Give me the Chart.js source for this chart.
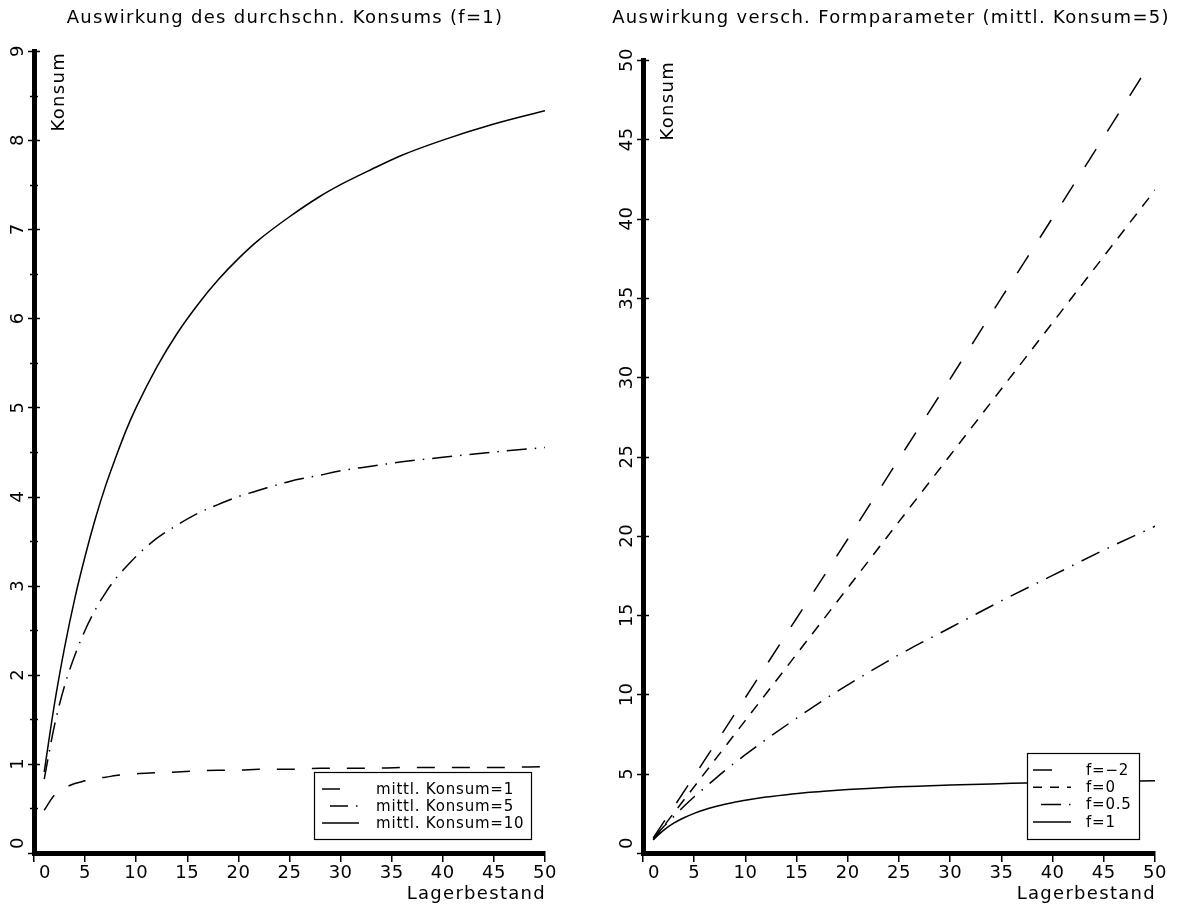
<!DOCTYPE html>
<html>
<head>
<meta charset="utf-8">
<script src="https://cdn.jsdelivr.net/npm/chart.js@4.4.0/dist/chart.umd.min.js"></script>
<style>
  body { margin: 0; background: #fff; }
  #wrap { position: relative; width: 1186px; height: 907px; }
  canvas { position: absolute; top: 0; }
</style>
</head>
<body>
<div id="wrap">
  <canvas id="links" width="593" height="907" style="left:0"></canvas>
  <canvas id="rechts" width="593" height="907" style="left:593px"></canvas>
</div>
<script>
// Daten links: Auswirkung des durchschn. Konsums (f=1)
const lagerLinks = [1, 2, 3, 4, 5, 6, 7, 8, 9, 10, 12, 14, 16, 18, 20, 22, 25, 28, 30, 33, 36, 40, 45, 50];
const konsum1  = [0.48, 0.65, 0.73, 0.78, 0.81, 0.84, 0.85, 0.87, 0.88, 0.89, 0.9, 0.91, 0.92, 0.93, 0.93, 0.94, 0.94, 0.95, 0.95, 0.95, 0.96, 0.96, 0.96, 0.97];
const konsum5  = [0.83, 1.43, 1.88, 2.22, 2.5, 2.73, 2.92, 3.08, 3.21, 3.33, 3.53, 3.68, 3.81, 3.91, 4.0, 4.07, 4.17, 4.24, 4.29, 4.34, 4.39, 4.44, 4.5, 4.55];
const konsum10 = [0.91, 1.67, 2.31, 2.86, 3.33, 3.75, 4.12, 4.44, 4.74, 5.0, 5.45, 5.83, 6.15, 6.43, 6.67, 6.88, 7.14, 7.37, 7.5, 7.67, 7.83, 8.0, 8.18, 8.33];

// Daten rechts: Auswirkung versch. Formparameter (mittl. Konsum=5)
const lagerFm2 = [1, 5, 10, 15, 20, 25, 30, 35, 40, 45, 49];
const formFm2  = [0.95, 4.85, 9.8, 14.8, 19.8, 24.85, 29.9, 35.0, 40.05, 45.15, 49.25];
const lagerF0  = [1, 10, 20, 30, 40, 50];
const formF0   = [0.84, 8.36, 16.72, 25.08, 33.44, 41.8];
const lagerF05 = [1, 2, 3, 4, 5, 6, 8, 10, 12, 15, 18, 20, 25, 30, 35, 40, 45, 50];
const formF05  = [0.9, 1.65, 2.3, 2.95, 3.55, 4.1, 5.2, 6.2, 7.15, 8.5, 9.8, 10.6, 12.5, 14.2, 15.9, 17.5, 19.1, 20.6];
const lagerF1  = [1, 2, 3, 4, 5, 6, 7, 8, 9, 10, 12, 14, 16, 18, 20, 22, 25, 28, 30, 33, 36, 40, 45, 50];
const formF1   = [0.83, 1.43, 1.88, 2.22, 2.5, 2.73, 2.92, 3.08, 3.21, 3.33, 3.53, 3.68, 3.81, 3.91, 4.0, 4.07, 4.17, 4.24, 4.29, 4.34, 4.39, 4.44, 4.5, 4.55];

// Achsenbeschriftung
const xTicks = [0, 5, 10, 15, 20, 25, 30, 35, 40, 45, 50];
const yTicksLinks = [0, 1, 2, 3, 4, 5, 6, 7, 8, 9];
const yTicksRechts = [0, 5, 10, 15, 20, 25, 30, 35, 40, 45, 50];

const FONT = '18px "DejaVu Sans"';
const FONT_LEG = '15px "DejaVu Sans"';

function punkte(xs, ys) {
  return xs.map((x, i) => ({ x, y: ys[i] }));
}

function linie(label, xs, ys, dash, legDash, legOffset) {
  return {
    label, data: punkte(xs, ys),
    borderColor: '#000', borderWidth: 1.5, borderDash: dash,
    pointRadius: 0, fill: false, cubicInterpolationMode: 'monotone',
    legDash, legOffset
  };
}

// Titel, Beschriftungen, Ticks und Legende selbst zeichnen
const beschriftung = {
  id: 'beschriftung',
  afterDraw(chart, args, o) {
    const ctx = chart.ctx;
    const { left, right, top } = chart.chartArea;
    const xs = chart.scales.x, ys = chart.scales.y;
    ctx.save();
    ctx.fillStyle = '#000';
    ctx.strokeStyle = '#000';
    ctx.font = FONT;
    ctx.letterSpacing = '1.3px';
    ctx.textBaseline = 'middle';

    ctx.textAlign = 'center';
    ctx.fillText(o.titel, o.titelX, 18);

    // y-Ticks (kreuzen die dicke Achse)
    ctx.lineWidth = 1.5;
    o.yMarken.forEach(v => {
      const py = Math.round(ys.getPixelForValue(v)) + 0.5;
      const l = o.yTicks.includes(v) ? 6 : 4;
      ctx.beginPath(); ctx.moveTo(left - l, py); ctx.lineTo(left + l, py); ctx.stroke();
    });

    // x-Beschriftung
    ctx.letterSpacing = '0.5px';
    xTicks.forEach(v => {
      let px = xs.getPixelForValue(v);
      if (v === 0) px += 11;
      ctx.fillText(String(v), px, 873);
    });
    ctx.letterSpacing = '1.3px';
    ctx.textAlign = 'right';
    ctx.fillText('Lagerbestand', right + 1, 894);

    // y-Beschriftung (gedreht)
    ctx.letterSpacing = '0.5px';
    o.yTicks.forEach(v => {
      let py = ys.getPixelForValue(v);
      if (v === 0) py -= 10;
      ctx.save();
      ctx.translate(left - 16, py);
      ctx.rotate(-Math.PI / 2);
      ctx.textAlign = 'center';
      ctx.fillText(String(v), 0, 0);
      ctx.restore();
    });
    ctx.letterSpacing = '1.3px';
    ctx.save();
    ctx.translate(left + 25, top + 1);
    ctx.rotate(-Math.PI / 2);
    ctx.textAlign = 'right';
    ctx.fillText('Konsum', 0, 0);
    ctx.restore();

    // Legende
    const L = o.legende;
    ctx.fillStyle = '#fff';
    ctx.fillRect(L.x, L.y, L.w, L.h);
    ctx.lineWidth = 1.2;
    ctx.strokeRect(L.x + 0.5, L.y + 0.5, L.w, L.h);
    ctx.fillStyle = '#000';
    ctx.textAlign = 'left';
    ctx.font = FONT_LEG;
    ctx.letterSpacing = '0.8px';
    chart.data.datasets.forEach((ds, i) => {
      const y = L.zeile0 + i * L.abstand;
      ctx.lineWidth = 1.5;
      ctx.setLineDash(ds.legDash || []);
      ctx.lineDashOffset = ds.legOffset || 0;
      ctx.beginPath(); ctx.moveTo(L.sx, y); ctx.lineTo(L.sx + L.sw, y); ctx.stroke();
      ctx.setLineDash([]);
      ctx.fillText(ds.label, L.tx, y + 1);
    });
    ctx.restore();
  }
};

function optionen(cfg) {
  return {
    responsive: false,
    animation: false,
    devicePixelRatio: 1,
    layout: { padding: { top: cfg.top, right: cfg.rechts, left: 0, bottom: 0 } },
    plugins: {
      legend: { display: false },
      tooltip: { enabled: false },
      beschriftung: cfg.text
    },
    scales: {
      x: {
        type: 'linear', min: 0, max: 50,
        afterBuildTicks: s => { s.ticks = xTicks.map(v => ({ value: v })); },
        afterFit: s => { s.height = 907 - 853; },
        ticks: { display: false },
        grid: { drawOnChartArea: false, drawTicks: true, tickLength: 9, color: '#000', lineWidth: 1.5 },
        border: { display: true, color: '#000', width: 5 }
      },
      y: {
        type: 'linear', min: 0, max: cfg.yMax,
        afterBuildTicks: s => { s.ticks = cfg.text.yTicks.map(v => ({ value: v })); },
        afterFit: s => { s.width = cfg.links; },
        ticks: { display: false },
        grid: { display: false },
        border: { display: true, color: '#000', width: 5 }
      }
    }
  };
}

// linkes Diagramm
new Chart(document.getElementById('links'), {
  type: 'line',
  data: {
    datasets: [
      linie('mittl. Konsum=1', lagerLinks, konsum1, [18, 17], [18, 40], 0),
      linie('mittl. Konsum=5', lagerLinks, konsum5, [20, 8, 1.5, 8], [18, 8, 1.5, 8], 27.5),
      linie('mittl. Konsum=10', lagerLinks, konsum10, [], [], 0)
    ]
  },
  options: optionen({
    top: 51, rechts: 593 - 545, links: 34, yMax: 9,
    text: {
      titel: 'Auswirkung des durchschn. Konsums (f=1)', titelX: 285,
      yTicks: yTicksLinks,
      yMarken: [0, 0.5, 1, 1.5, 2, 2.5, 3, 3.5, 4, 4.5, 5, 5.5, 6, 6.5, 7, 7.5, 8, 8.5, 9],
      legende: { x: 314, y: 772, w: 217, h: 67, sx: 322, sw: 37, tx: 376, zeile0: 789, abstand: 17 }
    }
  }),
  plugins: [beschriftung]
});

// rechtes Diagramm
new Chart(document.getElementById('rechts'), {
  type: 'line',
  data: {
    datasets: [
      linie('f=\u22122', lagerFm2, formFm2, [21, 21], [19, 40], 0),
      linie('f=0', lagerF0, formF0, [11, 9], [9, 8], 0),
      linie('f=0.5', lagerF05, formF05, [20, 9, 1.5, 9], [20, 8, 1.5, 8], 29.5),
      linie('f=1', lagerF1, formF1, [], [], 0)
    ]
  },
  options: optionen({
    top: 60, rechts: 593 - 562, links: 50, yMax: 50,
    text: {
      titel: 'Auswirkung versch. Formparameter (mittl. Konsum=5)', titelX: 298,
      yTicks: yTicksRechts,
      yMarken: yTicksRechts,
      legende: { x: 434, y: 753, w: 112, h: 86, sx: 440, sw: 38, tx: 493, zeile0: 770, abstand: 17.3 }
    }
  }),
  plugins: [beschriftung]
});
</script>
</body>
</html>
